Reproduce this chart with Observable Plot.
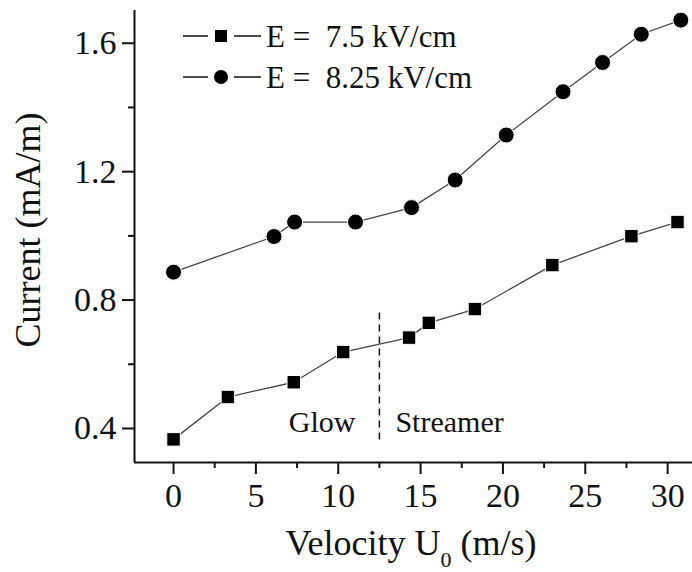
<!DOCTYPE html>
<html><head><meta charset="utf-8">
<script src="https://cdn.jsdelivr.net/npm/d3@7"></script>
<script src="https://cdn.jsdelivr.net/npm/@observablehq/plot@0.6"></script>
<style>
body{margin:0;background:#fff;}
#wrap{position:relative;width:692px;height:572px;}
</style></head><body><div id="wrap"></div>
<script>
// ---- data ----
const velocity75 = [0, 3.3, 7.3, 10.3, 14.3, 15.5, 18.3, 23.0, 27.8, 30.6];
const current75  = [0.366, 0.498, 0.544, 0.638, 0.683, 0.729, 0.772, 0.909, 0.999, 1.043];
const velocity825 = [0, 6.1, 7.35, 11.05, 14.45, 17.1, 20.2, 23.65, 26.05, 28.4, 30.8];
const current825  = [0.887, 0.998, 1.043, 1.043, 1.088, 1.174, 1.314, 1.449, 1.540, 1.628, 1.672];
const seriesLabels = ["E =\u00A0 7.5 kV/cm", "E =\u00A0 8.25 kV/cm"];
const seriesSymbols = ["square", "circle"];
const regimeBoundary = 12.5;            // Glow / Streamer boundary velocity
const boundaryCurrent = [0.364, 0.768]; // extent of dashed boundary
const regimeLabels = ["Glow", "Streamer"];
const xTicks = [0, 5, 10, 15, 20, 25, 30];
const xMinor = [2.5, 7.5, 12.5, 17.5, 22.5, 27.5];
const yTicks = [0.4, 0.8, 1.2, 1.6];
const yMinor = [0.6, 1.0, 1.4];
const xDomain = [-2.37, 31.51];
const yDomain = [0.294, 1.702];
const xTitle = ["Velocity U", "0", " (m/s)"];
const yTitle = "Current (mA/m)";

const s75 = velocity75.map((v, i) => ({v, c: current75[i]}));
const s825 = velocity825.map((v, i) => ({v, c: current825[i]}));
const FONT = '"Liberation Serif","Times New Roman",serif';
const INK = "#111";

const chart = Plot.plot({
  width: 692, height: 572,
  marginLeft: 134, marginRight: 0, marginTop: 10, marginBottom: 110,
  style: {fontFamily: FONT, fontSize: "34px", color: INK, background: "white", overflow: "visible"},
  x: {domain: xDomain},
  y: {domain: yDomain},
  marks: [
    Plot.ruleY([yDomain[0]], {stroke: INK, strokeWidth: 2}),
    Plot.ruleX([xDomain[0]], {stroke: INK, strokeWidth: 2}),
    Plot.axisX(xTicks, {tickSize: 12, strokeWidth: 2, tickPadding: 8, label: null, fontSize: 34}),
    Plot.axisX(xMinor, {tickSize: 6, strokeWidth: 2, tickFormat: () => "", label: null}),
    Plot.axisY(yTicks, {tickSize: 12, strokeWidth: 2, tickPadding: 6, label: null, fontSize: 34}),
    Plot.axisY(yMinor, {tickSize: 6, strokeWidth: 2, tickFormat: () => "", label: null}),
    Plot.ruleX([regimeBoundary], {y1: boundaryCurrent[0], y2: boundaryCurrent[1], stroke: INK, strokeWidth: 1.5, strokeDasharray: "7,5"}),
    Plot.text([regimeLabels[0]], {x: regimeBoundary, y: boundaryCurrent[0], text: d => d, textAnchor: "end", dx: -24, dy: -8, fontSize: 30, fill: INK, lineAnchor: "bottom"}),
    Plot.text([regimeLabels[1]], {x: regimeBoundary, y: boundaryCurrent[0], text: d => d, textAnchor: "start", dx: 16, dy: -8, fontSize: 30, fill: INK, lineAnchor: "bottom"}),
    Plot.line(s75, {x: "v", y: "c", stroke: "#444", strokeWidth: 1.3}),
    Plot.line(s825, {x: "v", y: "c", stroke: "#444", strokeWidth: 1.3}),
    Plot.dot(s75, {x: "v", y: "c", symbol: seriesSymbols[0], r: 7.6, fill: "#000", stroke: "white", strokeWidth: 1}),
    Plot.dot(s825, {x: "v", y: "c", symbol: seriesSymbols[1], r: 8, fill: "#000", stroke: "white", strokeWidth: 1})
  ]
});
document.getElementById("wrap").appendChild(chart);

const svg = d3.select(chart);
// x title with subscript
const xt = svg.append("text").attr("x", 411).attr("y", 555).attr("text-anchor", "middle")
  .attr("font-family", FONT).attr("font-size", 36).attr("fill", INK);
xt.append("tspan").text(xTitle[0]);
xt.append("tspan").attr("dy", 12).attr("font-size", 22).text(xTitle[1]);
xt.append("tspan").attr("dy", -12).style("white-space", "pre").text(xTitle[2]);
// y title
svg.append("text").attr("transform", "translate(40,230) rotate(-90)").attr("text-anchor", "middle")
  .attr("font-family", FONT).attr("font-size", 36).attr("fill", INK).text(yTitle);

// legend
const lg = svg.append("g").attr("text-anchor", "start");
const rowsY = [36, 77];
seriesLabels.forEach((lab, i) => {
  const y = rowsY[i];
  lg.append("line").attr("x1", 183).attr("x2", 208).attr("y1", y).attr("y2", y).attr("stroke", INK).attr("stroke-width", 1.5);
  lg.append("line").attr("x1", 234).attr("x2", 261).attr("y1", y).attr("y2", y).attr("stroke", INK).attr("stroke-width", 1.5);
  if (seriesSymbols[i] === "square") {
    lg.append("path").attr("d", d3.symbol(d3.symbolSquare, 12 * 12)()).attr("transform", `translate(221,${y})`).attr("fill", "#000");
  } else {
    lg.append("circle").attr("cx", 221).attr("cy", y).attr("r", 7).attr("fill", "#000");
  }
  lg.append("text").attr("x", 266).attr("y", y + 11).attr("text-anchor", "start").attr("font-family", FONT).attr("font-size", 31)
    .attr("fill", INK).text(lab);
});
</script></body></html>
